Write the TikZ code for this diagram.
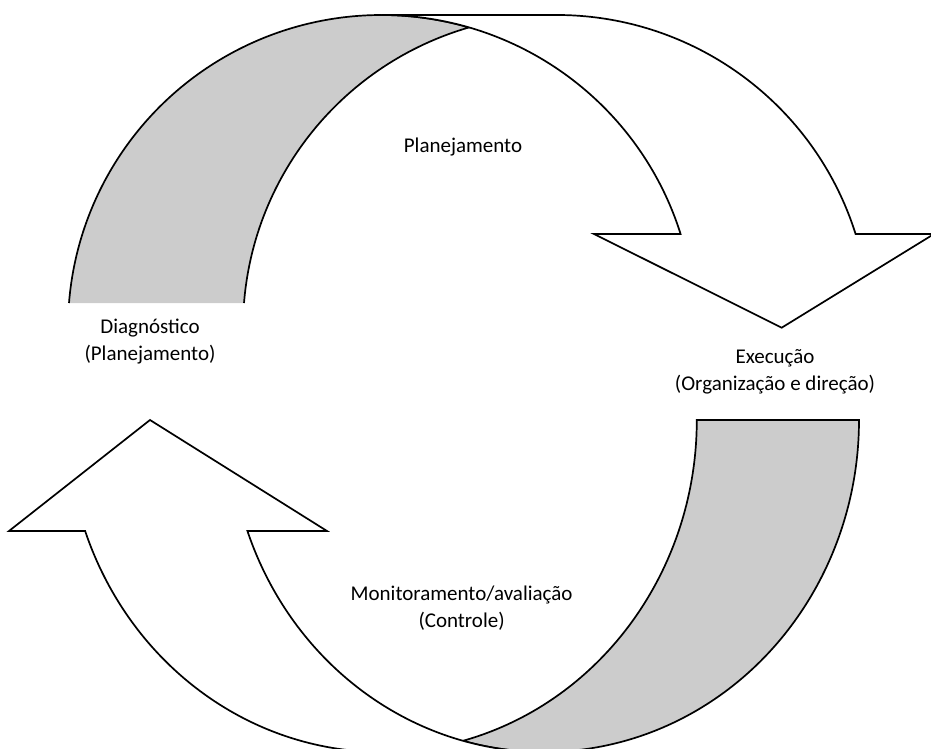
\documentclass[tikz,border=0pt]{standalone}
\usepackage{fontspec}
\setmainfont{Carlito}
\usetikzlibrary{calc}
\definecolor{bandgray}{RGB}{204,204,204}
\tikzset{
  outline/.style={draw=black, line width=1.7pt, line join=miter},
  lbl/.style={align=center, inner sep=0pt, font=\fontsize{21}{27}\selectfont},
  upper/.style={x radius=313.5, y radius=312.7},
  lower/.style={x radius=314.85, y radius=332},
}
\begin{document}
\begin{tikzpicture}[x=1pt,y=1pt]
\useasboundingbox (0,0) rectangle (931,749);
\clip (0,0) rectangle (931,749);

% ---- upper curved arrow (Planejamento -> Execucao) ----
\coordinate (A) at (381.5,421.3);
\coordinate (B) at (556.5,421.3);
% shaded back of the band, open at its lower end
\fill[bandgray] ($(A)+(175.47:313.5 and 312.7)$)
  arc[upper, start angle=175.47, end angle=73.79]
  arc[upper, start angle=106.21, end angle=175.47] -- cycle;
\draw[outline] ($(A)+(175.47:313.5 and 312.7)$)
  arc[upper, start angle=175.47, end angle=73.79]
  arc[upper, start angle=106.21, end angle=175.47];
% front of the band with its head
\draw[outline, fill=white] ($(A)+(0,312.7)$) -- ($(B)+(0,312.7)$)
  arc[upper, start angle=90, end angle=17.44]
  -- (934,515) -- (781.7,421.3) -- (594,515)
  -- ($(A)+(17.44:313.5 and 312.7)$)
  arc[upper, start angle=17.44, end angle=90] -- cycle;

% ---- lower curved arrow (Execucao -> Diagnostico) ----
\coordinate (C) at (544.15,329);
\coordinate (D) at (381.85,329);
% shaded back of the band
\draw[outline, fill=bandgray] ($(C)+(314.85,0)$)
  arc[lower, start angle=360, end angle=255.07]
  arc[lower, start angle=284.93, end angle=360] -- cycle;
% front of the band with its head
\draw[outline, fill=white] ($(D)+(0,-332)$)
  arc[lower, start angle=270, end angle=199.53]
  -- (9,218) -- (150,329) -- (327,218)
  -- ($(C)+(199.53:314.85 and 332)$)
  arc[lower, start angle=199.53, end angle=270] -- cycle;

% ---- labels ----
\node[lbl] (plan) at (463,602.4) {Planejamento};
\node[lbl] (diag) at (150,407.6) {Diagnóstico\\(Planejamento)};
\node[lbl] (exec) at (775,377.3) {Execução\\(Organização e direção)};
\node[lbl] (mon)  at (461.6,140.5) {Monitoramento/avaliação\\(Controle)};
\end{tikzpicture}
\end{document}
